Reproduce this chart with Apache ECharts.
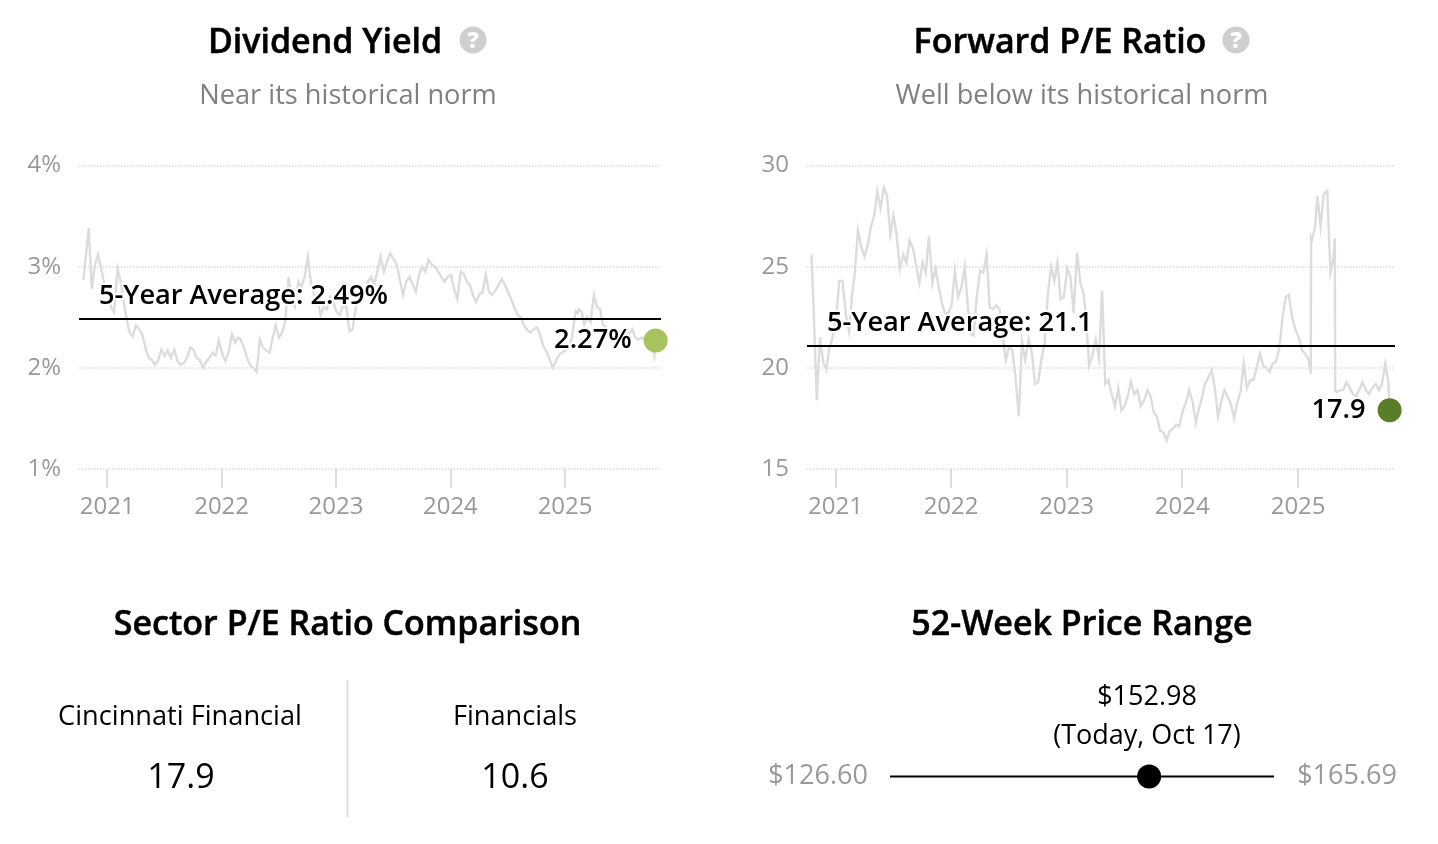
<!DOCTYPE html>
<html><head><meta charset="utf-8">
<style>html,body{margin:0;padding:0;background:#fff}#c{width:1438px;height:844px}</style>
<script src="https://cdn.jsdelivr.net/npm/echarts@6/dist/echarts.min.js"></script>
</head><body><div id="c"></div>
<script>
const dates = [
"2020-10-17","2020-10-23","2020-11-03","2020-11-13","2020-11-23","2020-12-03","2020-12-13","2020-12-23",
"2021-01-03","2021-01-13","2021-01-23","2021-02-03","2021-02-13","2021-02-23","2021-03-03","2021-03-13","2021-03-23","2021-04-03","2021-04-13","2021-04-23","2021-05-03","2021-05-13","2021-05-23","2021-06-03","2021-06-13","2021-06-23","2021-07-03","2021-07-13","2021-07-23","2021-08-03","2021-08-13","2021-08-23","2021-09-03","2021-09-13","2021-09-23","2021-10-03","2021-10-13","2021-10-23","2021-11-03","2021-11-13","2021-11-23","2021-12-03","2021-12-13","2021-12-23",
"2022-01-03","2022-01-13","2022-01-23","2022-02-03","2022-02-13","2022-02-23","2022-03-03","2022-03-13","2022-03-23","2022-04-03","2022-04-13","2022-04-23","2022-05-03","2022-05-13","2022-05-23","2022-06-03","2022-06-13","2022-06-23","2022-07-03","2022-07-13","2022-07-23","2022-08-03","2022-08-13","2022-08-23","2022-09-03","2022-09-13","2022-09-23","2022-10-03","2022-10-13","2022-10-23","2022-11-03","2022-11-13","2022-11-23","2022-12-03","2022-12-13","2022-12-23",
"2023-01-03","2023-01-13","2023-01-23","2023-02-03","2023-02-13","2023-02-23","2023-03-03","2023-03-13","2023-03-23","2023-04-03","2023-04-13","2023-04-23","2023-05-03","2023-05-13","2023-05-23","2023-06-03","2023-06-13","2023-06-23","2023-07-03","2023-07-13","2023-07-23","2023-08-03","2023-08-13","2023-08-23","2023-09-03","2023-09-13","2023-09-23","2023-10-03","2023-10-13","2023-10-23","2023-11-03","2023-11-13","2023-11-23","2023-12-03","2023-12-13","2023-12-23",
"2024-01-03","2024-01-13","2024-01-23","2024-02-03","2024-02-13","2024-02-23","2024-03-03","2024-03-13","2024-03-23","2024-04-03","2024-04-13","2024-04-23","2024-05-03","2024-05-13","2024-05-23","2024-06-03","2024-06-13","2024-06-23","2024-07-03","2024-07-13","2024-07-23","2024-08-03","2024-08-13","2024-08-23","2024-09-03","2024-09-13","2024-09-23","2024-10-03","2024-10-13","2024-10-23","2024-11-03","2024-11-13","2024-11-23","2024-12-03","2024-12-13","2024-12-23",
"2025-01-03","2025-01-13","2025-01-23","2025-02-03","2025-02-10","2025-02-11","2025-02-13","2025-02-23","2025-03-03","2025-03-13","2025-03-23","2025-04-03","2025-04-13","2025-04-23","2025-04-27","2025-04-28","2025-05-03","2025-05-13","2025-05-23","2025-06-03","2025-06-13","2025-06-23","2025-07-03","2025-07-13","2025-07-23","2025-08-03","2025-08-13","2025-08-23","2025-09-03","2025-09-13","2025-09-23","2025-10-03","2025-10-13","2025-10-17"
];
const yieldValues = [
2.87,3.05,3.38,2.78,3.02,3.12,2.98,2.82,
2.8,2.6,2.55,2.98,2.85,2.65,2.5,2.35,2.31,2.42,2.38,2.33,2.2,2.1,2.08,2.03,2.08,2.18,2.12,2.17,2.1,2.18,2.07,2.03,2.05,2.1,2.2,2.18,2.1,2.08,2.0,2.06,2.1,2.15,2.12,2.27,
2.14,2.07,2.15,2.33,2.25,2.3,2.28,2.2,2.1,2.02,2.0,1.96,2.28,2.2,2.17,2.15,2.3,2.42,2.3,2.35,2.45,2.9,2.65,2.6,2.85,2.8,2.9,3.1,2.85,2.72,2.68,2.52,2.6,2.58,2.7,2.65,
2.55,2.52,2.62,2.6,2.36,2.38,2.55,2.72,2.8,2.78,2.85,2.9,2.82,2.95,3.1,2.95,3.05,3.13,3.08,3.03,2.88,2.72,2.85,2.9,2.82,2.75,2.92,3.0,2.95,3.07,3.02,3.0,2.95,2.9,2.85,2.9,
2.92,2.78,2.68,2.95,2.93,2.85,2.82,2.72,2.65,2.73,2.75,2.92,2.75,2.72,2.76,2.82,2.88,2.82,2.75,2.68,2.6,2.52,2.5,2.42,2.37,2.35,2.38,2.4,2.33,2.22,2.16,2.08,2.0,2.07,2.13,2.15,
2.18,2.2,2.3,2.56,2.54,2.56,2.58,2.55,2.43,2.5,2.45,2.72,2.6,2.58,2.5,2.48,2.42,2.4,2.36,2.38,2.33,2.36,2.3,2.35,2.33,2.38,2.3,2.28,2.3,2.27,2.25,2.25,2.12,2.27
];
const peValues = [
25.6,23.3,18.4,21.5,20.3,19.9,21,21.5,
22.5,24.3,24.3,22.6,21.8,23.7,24.7,26.8,26,25.5,26.1,27,27.5,28.7,27.9,28.9,28.5,26.6,27.5,26.6,24.9,25.6,25.2,26.3,25.9,25,24.2,25.2,24.7,26.5,24.2,24.9,24,23.2,22.7,22.7,
23.1,24.8,23.5,24,25,23,21.7,21.6,23.5,24.8,24.7,25.6,23,22.9,23.1,22.9,21.6,20.4,21,20.9,19.6,17.6,21.3,20.4,21.4,20.8,19.2,19.3,20.4,21.2,23.7,25,24.3,25.2,23.4,23.5,
24.9,24.5,22.7,25.7,24.2,23.7,22.6,20.1,20.6,21.4,20.5,23.8,19.2,19.4,18.7,18.1,19,17.9,18.1,18.6,19.3,18.7,18.9,18.1,18.4,18.9,18.6,17.8,17.6,16.9,16.8,16.4,16.9,17,17.2,17.1,
17.9,18.3,18.9,18.3,17.3,18,18.5,19.2,19.5,19.9,19,17.6,18.3,18.9,18.6,18.2,17.5,18.3,18.8,20.2,19,19.4,19.4,20,20.7,20.1,20,19.8,20.2,20.3,21,22.5,23.5,23.6,22.5,21.9,
21.5,20.9,20.7,20.4,19.7,26.4,26.3,26.9,28.5,27,28.6,28.75,24.7,25.5,26.4,18.9,18.8,18.9,18.9,19.3,19,18.7,18.6,18.9,19.3,18.9,18.7,19,19.2,18.9,19.2,20.2,19.3,17.9
];
const yieldAverage = 2.49, peAverage = 21.1;
const yieldLatest = 2.27, peLatest = 17.9;
const latestDate = "2025-10-17";
const priceLow = 126.60, priceHigh = 165.69, priceToday = 152.98;
const sectorNames = ["Cincinnati Financial","Financials"];
const sectorValues = ["17.9","10.6"];

const FONT = '"Open Sans"';
const GRAY = '#999999';
function pairs(vals){ return vals.map((v,i)=>[dates[i],v]); }
function text(x,y,t,size,color,weight,strokeW){
  const style = {text:t,fontFamily:FONT,fontSize:size,fill:color,fontWeight:weight||400,textAlign:'center',textVerticalAlign:'middle'};
  if(strokeW){ style.stroke=color; style.lineWidth=strokeW; }
  return {type:'text',x:x,y:y,silent:true,style:style};
}
function help(cx,cy){
  return [{type:'circle',silent:true,shape:{cx:cx,cy:cy,r:13.5},style:{fill:'#cfcfcf'}},
    text(cx,cy+1,'?',23,'#ffffff',800)];
}
function xAxis(i){
  return {type:'time',gridIndex:i,min:'2020-10-03',max:'2025-11-03',
    minInterval:3600*24*365*1000,splitLine:{show:false},
    axisLine:{show:true,onZero:false,lineStyle:{color:'rgba(0,0,0,0)'}},
    axisTick:{show:true,inside:false,length:19,lineStyle:{color:'#dddddd',width:2}},minorTick:{show:false},
    axisLabel:{color:GRAY,fontFamily:FONT,fontSize:24,margin:26,hideOverlap:false,showMinLabel:false,showMaxLabel:false,
      formatter:v=>String(new Date(v).getFullYear())}};
}
function yAxis(i,min,max,step,fmt){
  return {type:'value',gridIndex:i,min:min,max:max,interval:step,axisLine:{show:false},axisTick:{show:false},
    splitLine:{show:true,lineStyle:{color:'#dcdcdc',type:'dotted',width:1.5}},
    axisLabel:{color:GRAY,fontFamily:FONT,fontSize:24,margin:18,padding:[0,0,6,0],formatter:fmt}};
}
const halo = {textBorderColor:'#ffffff',textBorderWidth:4};
function series(i,vals,avg,avgText,latest,latestText,color,offX){
  return [
   {type:'line',xAxisIndex:i,yAxisIndex:i,data:pairs(vals),showSymbol:false,silent:true,z:2,
    lineStyle:{color:'#dcdcdc',width:2.4,join:'miter'},
    markLine:{silent:true,symbol:'none',animation:false,z:3,data:[{yAxis:avg}],
      lineStyle:{color:'#000000',width:2,type:'solid'},
      label:{show:true,position:'insideStartTop',formatter:avgText,color:'#000',fontFamily:FONT,fontWeight:600,fontSize:27.2,distance:[offX,9],...halo}}},
   {type:'scatter',xAxisIndex:i,yAxisIndex:i,data:[[latestDate,latest]],symbolSize:24,silent:true,z:5,
    itemStyle:{color:color,opacity:1},
    label:{show:true,position:'left',distance:12,formatter:latestText,color:'#000',fontFamily:FONT,fontWeight:600,fontSize:27.2,...halo}}
  ];
}
const option = {
  animation:false,
  backgroundColor:'#ffffff',
  textStyle:{fontFamily:FONT},
  grid:[
   {left:79,top:165.5,width:582,height:303.5},
   {left:807,top:165.5,width:588,height:303.5},
   {left:890,top:766.5,width:384,height:20}
  ],
  xAxis:[xAxis(0),xAxis(1),
    {type:'value',gridIndex:2,min:priceLow,max:priceHigh,show:false}],
  yAxis:[yAxis(0,1,4,1,'{value}%'),yAxis(1,15,30,5,'{value}'),
    {type:'value',gridIndex:2,min:-1,max:1,show:false}],
  series:[
   ...series(0,yieldValues,yieldAverage,'5-Year Average: 2.49%',yieldLatest,'2.27%','#a9c25d',20),
   ...series(1,peValues,peAverage,'5-Year Average: 21.1',peLatest,'17.9','#5a7d27',20),
   {type:'line',xAxisIndex:2,yAxisIndex:2,data:[[priceLow,0],[priceHigh,0]],showSymbol:false,silent:true,lineStyle:{color:'#000',width:2}},
   {type:'scatter',xAxisIndex:2,yAxisIndex:2,data:[[priceToday,0]],symbolSize:24,silent:true,itemStyle:{color:'#000',opacity:1}}
  ],
  graphic:{elements:[
    text(325,43,'Dividend Yield',34,'#000',600,0.5),
    ...help(473,40),
    text(348,96,'Near its historical norm',27.2,'#808080'),
    text(1060,43,'Forward P/E Ratio',34,'#000',600,0.5),
    ...help(1236,40),
    text(1082,96,'Well below its historical norm',27.2,'#808080'),
    text(347.5,625,'Sector P/E Ratio Comparison',34,'#000',600,0.5),
    text(1082,625,'52-Week Price Range',34,'#000',600,0.5),
    text(180,717,sectorNames[0],27.2,'#000'),
    text(515,717,sectorNames[1],27.2,'#000'),
    text(181,778,sectorValues[0],34,'#000'),
    text(515,778,sectorValues[1],34,'#000'),
    {type:'line',silent:true,shape:{x1:347.5,y1:680,x2:347.5,y2:817},style:{stroke:'#dddddd',lineWidth:2}},
    text(1147,697,'$152.98',27,'#000'),
    text(1147,736,'(Today, Oct 17)',27,'#000'),
    text(818,776,'$126.60',27,GRAY),
    text(1347,776,'$165.69',27,GRAY)
  ]}
};
const chart = echarts.init(document.getElementById('c'),null,{renderer:'canvas',width:1438,height:844});
chart.setOption(option);
</script></body></html>
